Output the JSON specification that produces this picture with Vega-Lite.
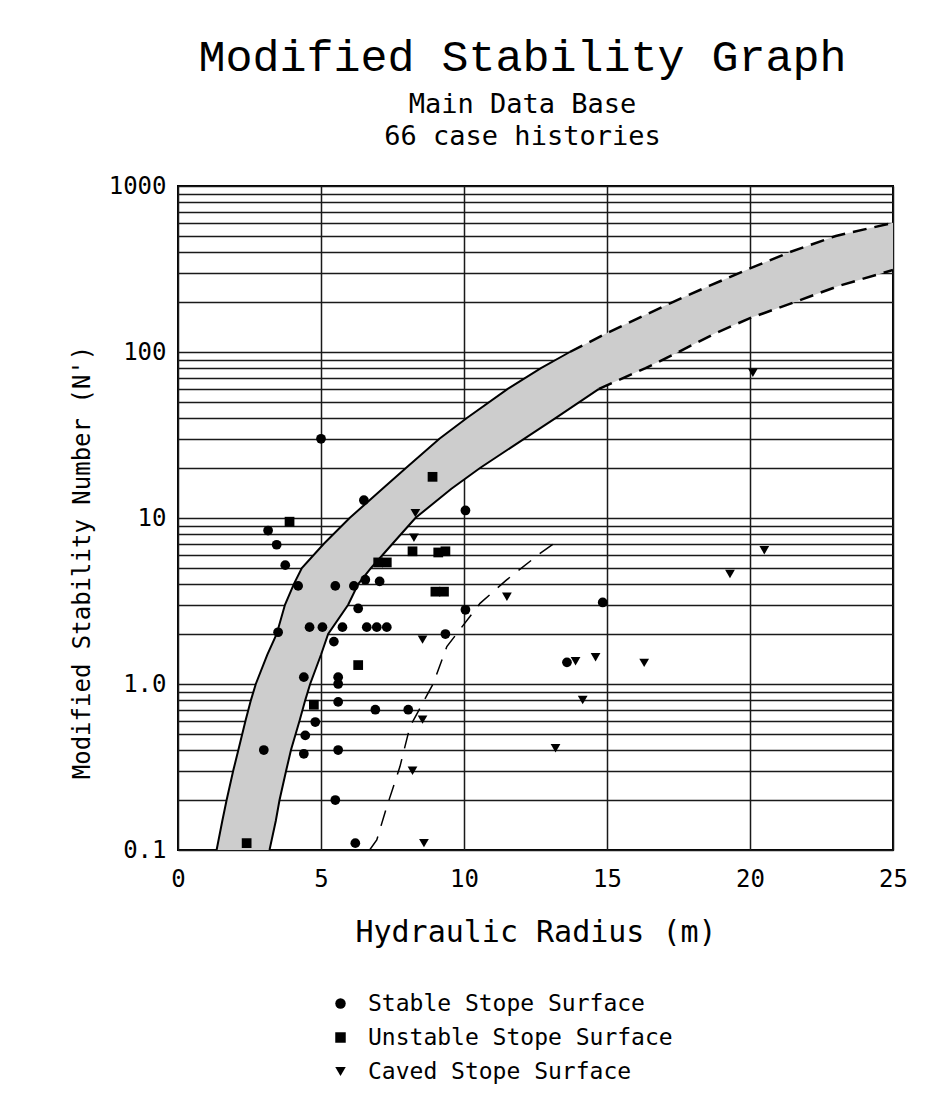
{
  "$schema": "https://vega.github.io/schema/vega-lite/v6.json",
  "width": 715,
  "height": 664,
  "autosize": "none",
  "padding": {"left": 178, "top": 186, "right": 40, "bottom": 250},
  "background": "white",
  "title": {
    "text": "Modified Stability Graph",
    "subtitle": ["Main Data Base", "66 case histories"],
    "font": "Liberation Mono",
    "fontSize": 45,
    "fontWeight": "normal",
    "color": "black",
    "subtitleFont": "DejaVu Sans Mono",
    "subtitleFontSize": 27,
    "subtitleLineHeight": 32,
    "subtitlePadding": 12,
    "subtitleColor": "black",
    "anchor": "middle",
    "dx": -13,
    "offset": 24
  },
  "config": {
    "view": {"stroke": "black", "strokeWidth": 2},
    "axis": {
      "grid": true,
      "gridColor": "#1a1a1a",
      "gridWidth": 1.5,
      "gridOpacity": 1,
      "ticks": false,
      "domain": false,
      "labelFont": "DejaVu Sans Mono",
      "labelFontSize": 24,
      "labelColor": "black",
      "titleFont": "DejaVu Sans Mono",
      "titleFontWeight": "normal",
      "titleColor": "black",
      "zindex": 1
    }
  },
  "datasets": {
    "band": [
      {"y": 0.1, "xl": 1.35, "xr": 3.2},
      {"y": 0.15, "xl": 1.55, "xr": 3.42},
      {"y": 0.2, "xl": 1.7, "xr": 3.55},
      {"y": 0.3, "xl": 1.93, "xr": 3.78},
      {"y": 0.4, "xl": 2.11, "xr": 3.95},
      {"y": 0.6, "xl": 2.36, "xr": 4.25},
      {"y": 0.8, "xl": 2.55, "xr": 4.45},
      {"y": 1, "xl": 2.72, "xr": 4.62},
      {"y": 1.5, "xl": 3.12, "xr": 5.0},
      {"y": 2, "xl": 3.45, "xr": 5.25},
      {"y": 3, "xl": 3.74, "xr": 5.95},
      {"y": 4, "xl": 4.05, "xr": 6.3},
      {"y": 5, "xl": 4.33, "xr": 6.75},
      {"y": 7, "xl": 5.1, "xr": 7.5},
      {"y": 10, "xl": 6.0, "xr": 8.3},
      {"y": 15, "xl": 7.15, "xr": 9.56},
      {"y": 20, "xl": 7.97, "xr": 10.56},
      {"y": 30, "xl": 9.14, "xr": 12.1},
      {"y": 40, "xl": 10.1, "xr": 13.2},
      {"y": 60, "xl": 11.53, "xr": 14.72},
      {"y": 80, "xl": 12.69, "xr": 16.35},
      {"y": 100, "xl": 13.7, "xr": 17.5},
      {"y": 130, "xl": 15.0, "xr": 18.8},
      {"y": 160, "xl": 16.1, "xr": 20.0},
      {"y": 200, "xl": 17.3, "xr": 21.57},
      {"y": 250, "xl": 18.57, "xr": 23.1},
      {"y": 312, "xl": 19.87, "xr": 25},
      {"y": 400, "xl": 21.4, "xr": 25},
      {"y": 500, "xl": 23.0, "xr": 25},
      {"y": 600, "xl": 25, "xr": 25}
    ],
    "edgesSolid": [
      {"seg": "upper", "x": 1.35, "y": 0.1},
      {"seg": "upper", "x": 1.55, "y": 0.15},
      {"seg": "upper", "x": 1.7, "y": 0.2},
      {"seg": "upper", "x": 1.93, "y": 0.3},
      {"seg": "upper", "x": 2.11, "y": 0.4},
      {"seg": "upper", "x": 2.36, "y": 0.6},
      {"seg": "upper", "x": 2.55, "y": 0.8},
      {"seg": "upper", "x": 2.72, "y": 1},
      {"seg": "upper", "x": 3.12, "y": 1.5},
      {"seg": "upper", "x": 3.45, "y": 2},
      {"seg": "upper", "x": 3.74, "y": 3},
      {"seg": "upper", "x": 4.05, "y": 4},
      {"seg": "upper", "x": 4.33, "y": 5},
      {"seg": "upper", "x": 5.1, "y": 7},
      {"seg": "upper", "x": 6.0, "y": 10},
      {"seg": "upper", "x": 7.15, "y": 15},
      {"seg": "upper", "x": 7.97, "y": 20},
      {"seg": "upper", "x": 9.14, "y": 30},
      {"seg": "upper", "x": 10.1, "y": 40},
      {"seg": "upper", "x": 11.53, "y": 60},
      {"seg": "upper", "x": 12.69, "y": 80},
      {"seg": "upper", "x": 13.7, "y": 100},
      {"seg": "lower", "x": 3.2, "y": 0.1},
      {"seg": "lower", "x": 3.42, "y": 0.15},
      {"seg": "lower", "x": 3.55, "y": 0.2},
      {"seg": "lower", "x": 3.78, "y": 0.3},
      {"seg": "lower", "x": 3.95, "y": 0.4},
      {"seg": "lower", "x": 4.25, "y": 0.6},
      {"seg": "lower", "x": 4.45, "y": 0.8},
      {"seg": "lower", "x": 4.62, "y": 1},
      {"seg": "lower", "x": 5.0, "y": 1.5},
      {"seg": "lower", "x": 5.25, "y": 2},
      {"seg": "lower", "x": 5.95, "y": 3},
      {"seg": "lower", "x": 6.3, "y": 4},
      {"seg": "lower", "x": 6.75, "y": 5},
      {"seg": "lower", "x": 7.5, "y": 7},
      {"seg": "lower", "x": 8.3, "y": 10},
      {"seg": "lower", "x": 9.56, "y": 15},
      {"seg": "lower", "x": 10.56, "y": 20},
      {"seg": "lower", "x": 12.1, "y": 30},
      {"seg": "lower", "x": 13.2, "y": 40},
      {"seg": "lower", "x": 14.72, "y": 60}
    ],
    "edgesDashed": [
      {"seg": "upper", "x": 13.7, "y": 100},
      {"seg": "upper", "x": 15.0, "y": 130},
      {"seg": "upper", "x": 16.1, "y": 160},
      {"seg": "upper", "x": 17.3, "y": 200},
      {"seg": "upper", "x": 18.57, "y": 250},
      {"seg": "upper", "x": 19.87, "y": 312},
      {"seg": "upper", "x": 21.4, "y": 400},
      {"seg": "upper", "x": 23.0, "y": 500},
      {"seg": "upper", "x": 25, "y": 600},
      {"seg": "lower", "x": 14.72, "y": 60},
      {"seg": "lower", "x": 16.35, "y": 80},
      {"seg": "lower", "x": 17.5, "y": 100},
      {"seg": "lower", "x": 18.8, "y": 130},
      {"seg": "lower", "x": 20.0, "y": 160},
      {"seg": "lower", "x": 21.57, "y": 200},
      {"seg": "lower", "x": 23.1, "y": 250},
      {"seg": "lower", "x": 25, "y": 312}
    ],
    "caving": [
      {"x": 6.7, "y": 0.1},
      {"x": 6.95, "y": 0.115},
      {"x": 7.3, "y": 0.182},
      {"x": 7.76, "y": 0.318},
      {"x": 8.11, "y": 0.553},
      {"x": 8.93, "y": 1.01},
      {"x": 9.4, "y": 1.68},
      {"x": 10.56, "y": 3.06},
      {"x": 11.49, "y": 4.24},
      {"x": 12.66, "y": 6.12},
      {"x": 13.24, "y": 7.2}
    ],
    "points": [
      {"x": 5.0, "y": 30, "type": "Stable Stope Surface"},
      {"x": 6.5, "y": 12.8, "type": "Stable Stope Surface"},
      {"x": 10.05, "y": 11.1, "type": "Stable Stope Surface"},
      {"x": 3.15, "y": 8.4, "type": "Stable Stope Surface"},
      {"x": 3.45, "y": 6.9, "type": "Stable Stope Surface"},
      {"x": 3.75, "y": 5.2, "type": "Stable Stope Surface"},
      {"x": 4.2, "y": 3.9, "type": "Stable Stope Surface"},
      {"x": 5.5, "y": 3.9, "type": "Stable Stope Surface"},
      {"x": 6.15, "y": 3.9, "type": "Stable Stope Surface"},
      {"x": 6.55, "y": 4.25, "type": "Stable Stope Surface"},
      {"x": 7.05, "y": 4.15, "type": "Stable Stope Surface"},
      {"x": 6.3, "y": 2.85, "type": "Stable Stope Surface"},
      {"x": 3.5, "y": 2.05, "type": "Stable Stope Surface"},
      {"x": 4.6, "y": 2.2, "type": "Stable Stope Surface"},
      {"x": 5.05, "y": 2.2, "type": "Stable Stope Surface"},
      {"x": 5.75, "y": 2.2, "type": "Stable Stope Surface"},
      {"x": 6.6, "y": 2.2, "type": "Stable Stope Surface"},
      {"x": 6.95, "y": 2.2, "type": "Stable Stope Surface"},
      {"x": 7.3, "y": 2.2, "type": "Stable Stope Surface"},
      {"x": 5.45, "y": 1.8, "type": "Stable Stope Surface"},
      {"x": 9.35, "y": 2.0, "type": "Stable Stope Surface"},
      {"x": 10.05, "y": 2.8, "type": "Stable Stope Surface"},
      {"x": 14.85, "y": 3.1, "type": "Stable Stope Surface"},
      {"x": 4.4, "y": 1.1, "type": "Stable Stope Surface"},
      {"x": 5.6, "y": 1.1, "type": "Stable Stope Surface"},
      {"x": 5.6, "y": 1.0, "type": "Stable Stope Surface"},
      {"x": 5.6, "y": 0.78, "type": "Stable Stope Surface"},
      {"x": 6.9, "y": 0.7, "type": "Stable Stope Surface"},
      {"x": 8.05, "y": 0.7, "type": "Stable Stope Surface"},
      {"x": 4.8, "y": 0.59, "type": "Stable Stope Surface"},
      {"x": 4.45, "y": 0.49, "type": "Stable Stope Surface"},
      {"x": 3.0, "y": 0.4, "type": "Stable Stope Surface"},
      {"x": 4.4, "y": 0.38, "type": "Stable Stope Surface"},
      {"x": 5.6, "y": 0.4, "type": "Stable Stope Surface"},
      {"x": 5.5, "y": 0.2, "type": "Stable Stope Surface"},
      {"x": 6.2, "y": 0.11, "type": "Stable Stope Surface"},
      {"x": 13.6, "y": 1.35, "type": "Stable Stope Surface"},
      {"x": 3.9, "y": 9.5, "type": "Unstable Stope Surface"},
      {"x": 8.9, "y": 17.7, "type": "Unstable Stope Surface"},
      {"x": 8.2, "y": 6.3, "type": "Unstable Stope Surface"},
      {"x": 9.1, "y": 6.2, "type": "Unstable Stope Surface"},
      {"x": 9.35, "y": 6.3, "type": "Unstable Stope Surface"},
      {"x": 7.0, "y": 5.4, "type": "Unstable Stope Surface"},
      {"x": 7.3, "y": 5.4, "type": "Unstable Stope Surface"},
      {"x": 9.0, "y": 3.6, "type": "Unstable Stope Surface"},
      {"x": 9.3, "y": 3.6, "type": "Unstable Stope Surface"},
      {"x": 6.3, "y": 1.3, "type": "Unstable Stope Surface"},
      {"x": 4.75, "y": 0.75, "type": "Unstable Stope Surface"},
      {"x": 2.4, "y": 0.11, "type": "Unstable Stope Surface"},
      {"x": 8.3, "y": 10.7, "type": "Caved Stope Surface"},
      {"x": 8.25, "y": 7.6, "type": "Caved Stope Surface"},
      {"x": 11.5, "y": 3.35, "type": "Caved Stope Surface"},
      {"x": 8.55, "y": 1.85, "type": "Caved Stope Surface"},
      {"x": 8.55, "y": 0.61, "type": "Caved Stope Surface"},
      {"x": 8.2, "y": 0.3, "type": "Caved Stope Surface"},
      {"x": 8.6, "y": 0.11, "type": "Caved Stope Surface"},
      {"x": 13.9, "y": 1.37, "type": "Caved Stope Surface"},
      {"x": 14.6, "y": 1.45, "type": "Caved Stope Surface"},
      {"x": 16.3, "y": 1.34, "type": "Caved Stope Surface"},
      {"x": 14.15, "y": 0.8, "type": "Caved Stope Surface"},
      {"x": 13.2, "y": 0.41, "type": "Caved Stope Surface"},
      {"x": 19.3, "y": 4.6, "type": "Caved Stope Surface"},
      {"x": 20.5, "y": 6.4, "type": "Caved Stope Surface"},
      {"x": 20.1, "y": 75, "type": "Caved Stope Surface"}
    ]
  },
  "layer": [
    {
      "data": {"name": "band"},
      "mark": {"type": "area", "orient": "horizontal", "fill": "#cdcdcd", "fillOpacity": 1, "clip": true},
      "encoding": {
        "y": {"field": "y", "type": "quantitative",
              "scale": {"type": "log", "domain": [0.1, 1000], "nice": false},
              "axis": {
                "values": [0.1,0.2,0.3,0.4,0.5,0.6,0.7,0.8,0.9,1,2,3,4,5,6,7,8,9,10,20,30,40,50,60,70,80,90,100,200,300,400,500,600,700,800,900,1000],
                "labelExpr": "datum.value == 1000 ? '1000' : datum.value == 100 ? '100' : datum.value == 10 ? '10' : datum.value == 1 ? '1.0' : (datum.value > 0.099 && datum.value < 0.101) ? '0.1' : ''",
                "labelPadding": 12,
                "title": "Modified Stability Number (N')",
                "titleFontSize": 24,
                "titlePadding": 14,
                "titleY": 376
              }},
        "x": {"field": "xl", "type": "quantitative",
              "scale": {"domain": [0, 25], "nice": false},
              "axis": {
                "values": [0, 5, 10, 15, 20, 25],
                "labelPadding": 17,
                "labelFlush": false,
                "title": "Hydraulic Radius (m)",
                "titleFontSize": 30,
                "titlePadding": 26
              }},
        "x2": {"field": "xr"}
      }
    },
    {
      "data": {"name": "edgesSolid"},
      "mark": {"type": "line", "color": "black", "strokeWidth": 2, "clip": true},
      "encoding": {
        "x": {"field": "x", "type": "quantitative"},
        "y": {"field": "y", "type": "quantitative"},
        "detail": {"field": "seg"}
      }
    },
    {
      "data": {"name": "edgesDashed"},
      "mark": {"type": "line", "color": "black", "strokeWidth": 2.5, "strokeDash": [14, 8], "clip": true},
      "encoding": {
        "x": {"field": "x", "type": "quantitative"},
        "y": {"field": "y", "type": "quantitative"},
        "detail": {"field": "seg"}
      }
    },
    {
      "data": {"name": "caving"},
      "mark": {"type": "line", "color": "black", "strokeWidth": 1.5, "strokeDash": [16, 11], "clip": true},
      "encoding": {
        "x": {"field": "x", "type": "quantitative"},
        "y": {"field": "y", "type": "quantitative"}
      }
    },
    {
      "data": {"name": "points"},
      "mark": {"type": "point", "filled": true, "color": "black", "opacity": 1, "size": 95},
      "encoding": {
        "x": {"field": "x", "type": "quantitative"},
        "y": {"field": "y", "type": "quantitative"},
        "shape": {"field": "type", "type": "nominal",
                  "scale": {"domain": ["Stable Stope Surface", "Unstable Stope Surface", "Caved Stope Surface"],
                            "range": ["circle", "square", "triangle-down"]},
                  "legend": {
                    "title": null,
                    "orient": "none",
                    "legendX": 151,
                    "legendY": 806,
                    "padding": 0,
                    "labelFont": "DejaVu Sans Mono",
                    "labelFontSize": 23,
                    "labelColor": "black",
                    "labelLimit": 500,
                    "labelOffset": 16,
                    "symbolSize": 110,
                    "symbolFillColor": "black",
                    "symbolStrokeColor": "black",
                    "rowPadding": 10
                  }}
      }
    }
  ]
}
